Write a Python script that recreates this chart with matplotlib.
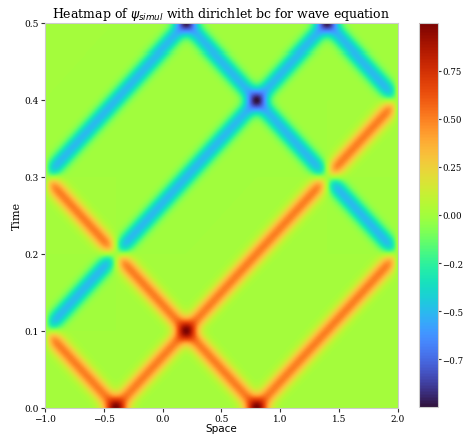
import numpy as np
import matplotlib

matplotlib.use("Agg")

import matplotlib.pyplot as plt  # noqa: E402

# domain and wave parameters
x_left, x_right = -1.0, 2.0
t_end = 0.5
wave_speed = 6.0

# initial gaussian pulses
pulse_centers = [-0.4, 0.8]
pulse_amps = [1.0, 1.0]
pulse_sigma = 0.072

cbar_ticks = [-0.75, -0.5, -0.25, 0.0, 0.25, 0.5, 0.75]


def initial_profile(x):
    """Odd, periodic extension of the initial state (dirichlet walls)."""
    period = 2 * (x_right - x_left)
    out = np.zeros_like(x)
    for x0, a in zip(pulse_centers, pulse_amps):
        mirror = 2 * x_left - x0
        for k in range(-3, 4):
            out += a * np.exp(-0.5 * ((x - x0 - k * period) / pulse_sigma) ** 2)
            out -= a * np.exp(-0.5 * ((x - mirror - k * period) / pulse_sigma) ** 2)
    return out


x = np.linspace(x_left, x_right, 353)
t = np.linspace(0.0, t_end, 385)
X, T = np.meshgrid(x, t)
psi = 0.5 * (initial_profile(X - wave_speed * T) + initial_profile(X + wave_speed * T))

plt.rcParams["font.family"] = ["DejaVu Serif"]
plt.rcParams["font.size"] = 8

fig = plt.figure(figsize=(4.64, 4.35), dpi=100)
ax = fig.add_axes([0.097, 0.06, 0.76, 0.885])
cax = fig.add_axes([0.903, 0.062, 0.041, 0.883])

im = ax.pcolormesh(X, T, psi, cmap="turbo", shading="auto", rasterized=True)
ax.set_xlim(x_left, x_right)
ax.set_ylim(0.0, t_end)
ax.set_title(r"Heatmap of $\psi_{simul}$ with dirichlet bc for wave equation", fontsize=9, pad=4)
ax.set_xlabel("Space", fontsize=7.5, labelpad=0, family="DejaVu Sans")
ax.set_ylabel("Time", fontsize=8, labelpad=2)
ax.set_xticks([-1.0, -0.5, 0.0, 0.5, 1.0, 1.5, 2.0])
ax.set_yticks([0.0, 0.1, 0.2, 0.3, 0.4, 0.5])

cb = fig.colorbar(im, cax=cax, ticks=cbar_ticks)
cb.outline.set_edgecolor("#cccccc")

for a in (ax, cax):
    for s in a.spines.values():
        s.set_edgecolor("#cccccc")
ax.tick_params(length=3, width=0.8, color="#333333", pad=1.5, labelsize=6.5)
cax.tick_params(length=2, width=0.8, color="#333333", pad=1, labelsize=6.2)

fig.savefig("out.png", dpi=100)
plt.close(fig)
